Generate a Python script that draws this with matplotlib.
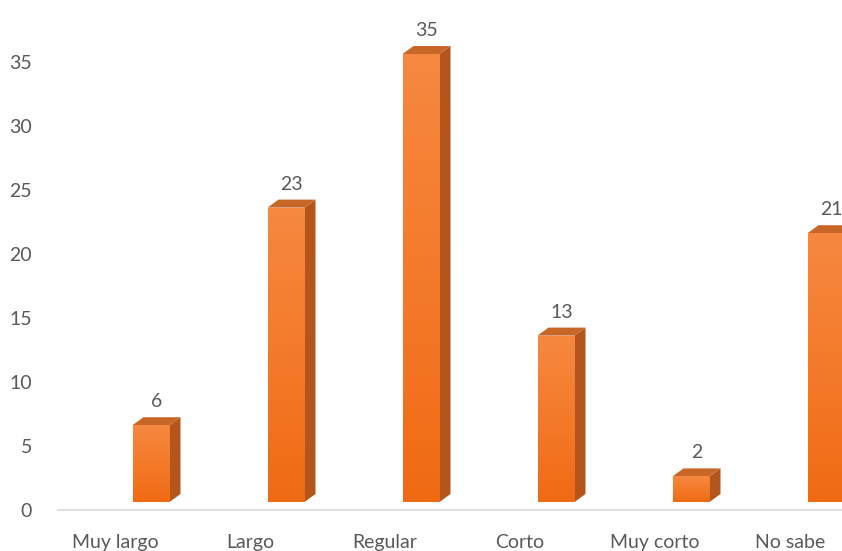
import numpy as np
import matplotlib
matplotlib.use('Agg')
import matplotlib.pyplot as plt
from matplotlib.patches import Polygon
from matplotlib.colors import LinearSegmentedColormap

categories = ['Muy largo', 'Largo', 'Regular', 'Corto', 'Muy corto', 'No sabe']
values = [6, 23, 35, 13, 2, 21]
yticks = [0, 5, 10, 15, 20, 25, 30, 35]

plt.rcParams['font.family'] = ['Lato', 'DejaVu Sans']
text_col = '#595959'

W, H = 842, 551
fig = plt.figure(figsize=(W / 100, H / 100), dpi=100)

# layout in pixels
slot = 135.0          # width of one category
px_unit = 12.8        # pixels per y unit
left_px = 115 - slot / 2
ax = fig.add_axes([left_px / W, 41 / H, 6 * slot / W, 39 * px_unit / H])

xu = 1 / slot
yu = 1 / px_unit
lift = 8 * yu          # front face sits above the floor line
off = 36 * xu          # bars sit right of the category centre
bw = 37 * xu
dx, dy = 11 * xu, 8 * yu

front_cmap = LinearSegmentedColormap.from_list('front', ['#F06A14', '#F47A2A', '#F68840'])
grad = np.linspace(0, 1, 256).reshape(-1, 1)

for i, v in enumerate(values):
    xc = i + off
    x0, x1 = xc - bw / 2, xc + bw / 2
    b, t = lift, v + lift
    bar = ax.bar(xc, v, bw, bottom=b, color='#F47A2A', linewidth=0, zorder=3)[0]
    im = ax.imshow(grad, extent=[x0, x1, b, t], origin='lower', cmap=front_cmap,
                   aspect='auto', zorder=3.1, interpolation='bilinear')
    im.set_clip_path(bar)
    ax.add_patch(Polygon([(x1, b), (x1 + dx, b + dy), (x1 + dx, t + dy), (x1, t)],
                         closed=True, facecolor='#B4561C', edgecolor='none', zorder=3))
    ax.add_patch(Polygon([(x0, t), (x1, t), (x1 + dx, t + dy), (x0 + dx, t + dy)],
                         closed=True, facecolor='#C86628', edgecolor='none', zorder=3))
    ax.annotate(str(v), (xc + dx / 2, t + dy), xytext=(0, 5), textcoords='offset points',
                ha='center', va='bottom', fontsize=14, color=text_col)

# floor line
ax.plot([-0.42, 5.6], [0, 0], color='#D9D9D9', lw=1.2, zorder=2, clip_on=False)

ax.set_xlim(-0.5, 5.5)
ax.set_ylim(0, 39)
ax.set_xticks(range(len(categories)))
ax.set_xticklabels(categories)
ax.set_yticks(yticks)
ax.tick_params(axis='both', length=0, colors=text_col, labelsize=14)
ax.tick_params(axis='x', pad=17)
ax.tick_params(axis='y', pad=11)
for s in ax.spines.values():
    s.set_visible(False)

fig.savefig('out.png', dpi=100, facecolor='white')
